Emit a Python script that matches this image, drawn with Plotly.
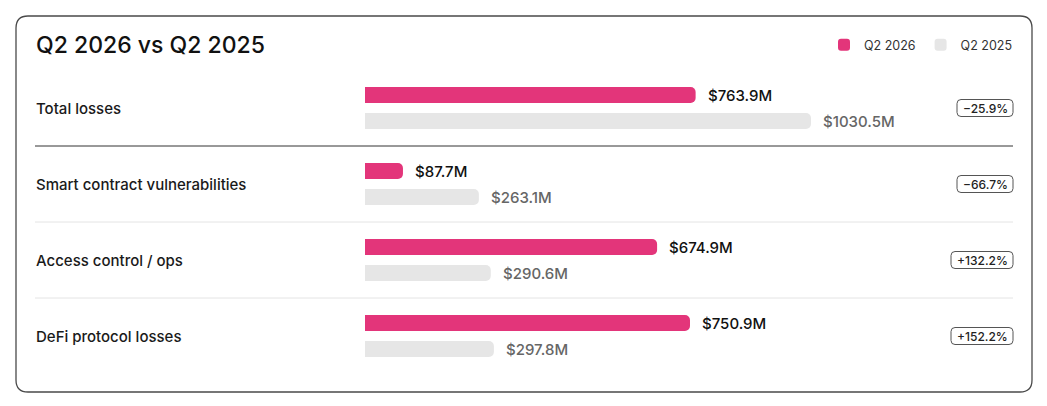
import plotly.graph_objects as go

# ---------------- data ----------------
categories = ["Total losses", "Smart contract vulnerabilities",
              "Access control / ops", "DeFi protocol losses"]
q2_2026 = [763.9, 87.7, 674.9, 750.9]
q2_2025 = [1030.5, 263.1, 290.6, 297.8]
changes = ["−25.9%", "−66.7%", "+132.2%", "+152.2%"]
series_names = ["Q2 2026", "Q2 2025"]

# ---------------- style ----------------
W, H = 1047, 406
PINK = "#E3357A"
GREY = "#E6E6E6"
FONT = "Inter, 'Noto Sans', sans-serif"
ROW0, ROWSTEP = 108, 76          # pixel centre of first row and row pitch
BAR_LEFT, PX_PER_M = 365, 0.4328  # x-axis zero in pixels, scale


def px(x):
    return x / W


def py(y):
    return 1 - y / H


def rounded_rect(x0, y0, x1, y1, r):
    pts = [
        f"M {px(x0 + r)},{py(y0)}",
        f"L {px(x1 - r)},{py(y0)}",
        f"Q {px(x1)},{py(y0)} {px(x1)},{py(y0 + r)}",
        f"L {px(x1)},{py(y1 - r)}",
        f"Q {px(x1)},{py(y1)} {px(x1 - r)},{py(y1)}",
        f"L {px(x0 + r)},{py(y1)}",
        f"Q {px(x0)},{py(y1)} {px(x0)},{py(y1 - r)}",
        f"L {px(x0)},{py(y0 + r)}",
        f"Q {px(x0)},{py(y0)} {px(x0 + r)},{py(y0)}",
        "Z",
    ]
    return " ".join(pts)


fig = go.Figure()
fig.add_trace(go.Bar(y=categories, x=q2_2026, orientation="h", name=series_names[0],
                     marker=dict(color=PINK, line=dict(width=0), cornerradius=5),
                     hoverinfo="skip"))
fig.add_trace(go.Bar(y=categories, x=q2_2025, orientation="h", name=series_names[1],
                     marker=dict(color=GREY, line=dict(width=0), cornerradius=5),
                     hoverinfo="skip"))

shapes = []
annotations = []

# card
shapes.append(dict(type="path", xref="paper", yref="paper",
                   path=rounded_rect(16, 16, 1032, 392, 12),
                   line=dict(color="#4a4a4a", width=1.3), fillcolor="rgba(0,0,0,0)",
                   layer="below"))

# title
annotations.append(dict(text="Q2 2026 vs Q2 2025", xref="paper", yref="paper",
                        x=px(34), y=py(45), xanchor="left", yanchor="middle",
                        showarrow=False,
                        font=dict(family=FONT, size=23, color="#111", weight=500)))

# separators between rows
for i in range(len(categories) - 1):
    shapes.append(dict(type="line", xref="paper", yref="y",
                       x0=px(35), x1=px(1013), y0=i + 0.5, y1=i + 0.5,
                       line=dict(color="#333" if i == 0 else "#E4E4E4", width=1)))

for i, cat in enumerate(categories):
    # row label
    annotations.append(dict(text=cat, xref="paper", yref="y", x=px(34), y=cat,
                            xanchor="left", yanchor="middle", showarrow=False,
                            font=dict(family=FONT, size=15, color="#1a1a1a", weight=500)))
    # value labels
    annotations.append(dict(text=f"${q2_2026[i]:.1f}M", xref="x", yref="y",
                            x=q2_2026[i], y=cat, xshift=10, yshift=13,
                            xanchor="left", yanchor="middle", showarrow=False,
                            font=dict(family=FONT, size=15, color="#111", weight=500)))
    annotations.append(dict(text=f"${q2_2025[i]:.1f}M", xref="x", yref="y",
                            x=q2_2025[i], y=cat, xshift=10, yshift=-13,
                            xanchor="left", yanchor="middle", showarrow=False,
                            font=dict(family=FONT, size=15, color="#666", weight=500)))
    # change badge
    bw = 20 + 6 * len(changes[i])
    r = 4
    h2 = 8.5
    path = (f"M {-bw + r},{-h2} L {-r},{-h2} Q 0,{-h2} 0,{-h2 + r} L 0,{h2 - r} "
            f"Q 0,{h2} {-r},{h2} L {-bw + r},{h2} Q {-bw},{h2} {-bw},{h2 - r} "
            f"L {-bw},{-h2 + r} Q {-bw},{-h2} {-bw + r},{-h2} Z")
    shapes.append(dict(type="path", xref="paper", yref="y",
                       xsizemode="pixel", ysizemode="pixel",
                       xanchor=px(1013), yanchor=i, path=path,
                       line=dict(color="#555", width=1), fillcolor="white"))
    annotations.append(dict(text=changes[i], xref="paper", yref="y",
                            x=px(1013 - bw / 2), y=cat, xanchor="center", yanchor="middle",
                            showarrow=False,
                            font=dict(family=FONT, size=12, color="#222", weight=500)))

fig.update_layout(
    width=W, height=H,
    margin=dict(l=0, r=0, t=0, b=0),
    paper_bgcolor="white", plot_bgcolor="rgba(0,0,0,0)",
    barmode="group", bargap=24 / 76, bargroupgap=10 / 26,
    xaxis=dict(domain=[px(BAR_LEFT), 1], range=[0, (W - BAR_LEFT) / PX_PER_M],
               visible=False, fixedrange=True),
    yaxis=dict(type="category", categoryarray=categories, categoryorder="array",
               range=[(H - ROW0) / ROWSTEP, -ROW0 / ROWSTEP],
               visible=False, fixedrange=True),
    showlegend=True,
    legend=dict(orientation="h", x=px(1018), xanchor="right", y=py(45), yanchor="middle",
                font=dict(family=FONT, size=12.5, color="#333"),
                bgcolor="rgba(0,0,0,0)", itemclick=False, itemdoubleclick=False,
                traceorder="normal", itemwidth=30, entrywidth=0),
    shapes=shapes, annotations=annotations,
    font=dict(family=FONT),
)

fig.write_html("out.html")
